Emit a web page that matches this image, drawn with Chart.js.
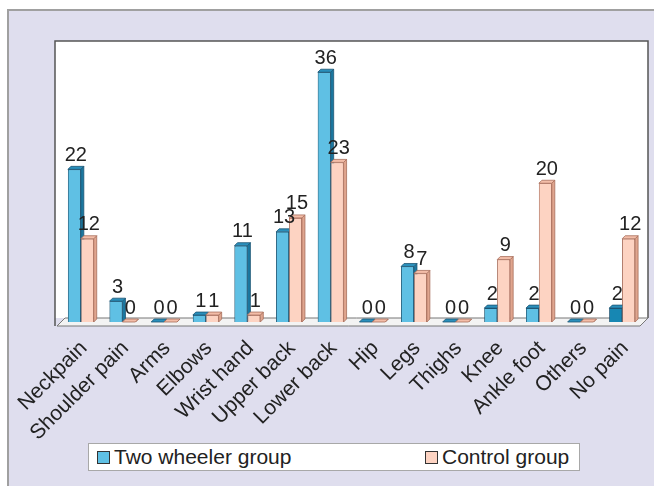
<!DOCTYPE html>
<html>
<head>
<meta charset="utf-8">
<script src="https://cdn.jsdelivr.net/npm/chart.js@4.4.1/dist/chart.umd.min.js"></script>
<style>
  body { margin: 0; background: #fff; }
  #wrap { position: relative; width: 654px; height: 486px; }
  #legend {
    position: absolute; left: 88px; top: 443px; width: 490px; height: 26px;
    background: #fff; border: 1px solid #a8a8a8;
    font: 21px "Liberation Sans", Arial, sans-serif; color: #222;
  }
  .item { position: absolute; top: 1px; line-height: 24px; white-space: nowrap; }
  .sw { display: inline-block; width: 11px; height: 11px; border: 1px solid #333; margin-right: 4px; vertical-align: 0px; }
</style>
</head>
<body>
<div id="wrap">
  <canvas id="chart" width="654" height="486"></canvas>
  <div id="legend"></div>
</div>
<script>
const categories = ['Neckpain', 'Shoulder pain', 'Arms', 'Elbows', 'Wrist hand', 'Upper back', 'Lower back',
                    'Hip', 'Legs', 'Thighs', 'Knee', 'Ankle foot', 'Others', 'No pain'];
const twoWheeler = [22, 3, 0, 1, 11, 13, 36, 0, 8, 0, 2, 2, 0, 2];
const control = [12, 0, 0, 1, 1, 15, 23, 0, 7, 0, 9, 20, 0, 12];
const seriesNames = ['Two wheeler group', 'Control group'];

const FONT = '"Liberation Sans", Arial, sans-serif';
const DEPTH = 3;

// front / side / top colours for each series
const blueFront = categories.map(c => c === 'No pain' ? '#1787b3' : '#5fc0e4');
const shades = [
  { side: '#1b78a0', top: '#2a8fbb', line: '#1d5573' },
  { side: '#e0a58e', top: '#f3bda8', line: '#a86e5c' }
];

const frame = {
  id: 'frame',
  beforeDraw(chart) {
    const { ctx, chartArea: a } = chart;
    ctx.save();
    ctx.fillStyle = '#fff';
    ctx.fillRect(0, 0, chart.width, chart.height);
    ctx.fillStyle = '#dfdeee';
    ctx.fillRect(8, 10, chart.width, chart.height);
    ctx.strokeStyle = '#a0a0a0';
    ctx.lineWidth = 2;
    ctx.strokeRect(8, 10, chart.width + 10, chart.height + 10);
    // plot box
    const l = a.left - 5, r = a.right + 5, t = a.top, b = a.bottom;
    ctx.fillStyle = '#fff';
    ctx.fillRect(l, t, r - l, b - t - 4);
    ctx.strokeStyle = '#555';
    ctx.lineWidth = 1.5;
    ctx.beginPath();
    ctx.moveTo(l, b + 4); ctx.lineTo(l, t); ctx.lineTo(r, t); ctx.lineTo(r, b - 4);
    ctx.stroke();
    // floor
    ctx.fillStyle = '#f3f3f3';
    ctx.strokeStyle = '#777';
    ctx.lineWidth = 1;
    ctx.beginPath();
    ctx.moveTo(l + 2, b + 4); ctx.lineTo(r - 8, b + 4); ctx.lineTo(r, b - 4); ctx.lineTo(l + 10, b - 4);
    ctx.closePath();
    ctx.fill(); ctx.stroke();
    ctx.restore();
  }
};

const bars3d = {
  id: 'bars3d',
  afterDatasetsDraw(chart) {
    const ctx = chart.ctx;
    const metas = [chart.getDatasetMeta(0), chart.getDatasetMeta(1)];
    categories.forEach((c, i) => {
      metas.forEach((m, di) => {
        const el = m.data[i];
        const { x, y, base, width } = el.getProps(['x', 'y', 'base', 'width'], true);
        const lft = x - width / 2, rgt = x + width / 2;
        el.draw(ctx);
        ctx.save();
        ctx.strokeStyle = shades[di].line;
        ctx.lineWidth = 0.8;
        ctx.fillStyle = shades[di].side;
        ctx.beginPath();
        ctx.moveTo(rgt, y); ctx.lineTo(rgt + DEPTH, y - DEPTH);
        ctx.lineTo(rgt + DEPTH, base - DEPTH); ctx.lineTo(rgt, base);
        ctx.closePath(); ctx.fill(); ctx.stroke();
        ctx.fillStyle = shades[di].top;
        ctx.beginPath();
        ctx.moveTo(lft, y); ctx.lineTo(lft + DEPTH, y - DEPTH);
        ctx.lineTo(rgt + DEPTH, y - DEPTH); ctx.lineTo(rgt, y);
        ctx.closePath(); ctx.fill(); ctx.stroke();
        ctx.restore();
      });
    });
    // value labels
    ctx.save();
    ctx.font = '20px ' + FONT;
    ctx.fillStyle = '#222';
    ctx.textAlign = 'center';
    ctx.textBaseline = 'bottom';
    metas.forEach((m, di) => {
      const vals = di === 0 ? twoWheeler : control;
      m.data.forEach((el, i) => {
        ctx.fillText(String(vals[i]), el.x + DEPTH / 2, el.y - DEPTH - 1);
      });
    });
    ctx.restore();
  }
};

new Chart(document.getElementById('chart'), {
  type: 'bar',
  data: {
    labels: categories,
    datasets: [
      { label: seriesNames[0], data: twoWheeler, backgroundColor: blueFront, borderColor: shades[0].line, borderWidth: 0.8 },
      { label: seriesNames[1], data: control, backgroundColor: '#fdd3c2', borderColor: shades[1].line, borderWidth: 0.8 }
    ]
  },
  options: {
    responsive: false,
    animation: false,
    layout: { padding: { left: 60, right: 11, top: 41, bottom: 0 } },
    datasets: { bar: { categoryPercentage: 0.62, barPercentage: 1 } },
    plugins: { legend: { display: false }, tooltip: { enabled: false } },
    scales: {
      y: { display: false, min: 0, max: 40.5 },
      x: {
        grid: { display: false },
        border: { display: false },
        afterFit(scale) { scale.height = 164; },
        ticks: {
          autoSkip: false, minRotation: 45, maxRotation: 45, padding: 6, labelOffset: 3,
          color: '#222', font: { size: 21, family: FONT }
        }
      }
    }
  },
  plugins: [frame, bars3d]
});

const legend = document.getElementById('legend');
const swatches = ['#5fc0e4', '#fdd3c2'];
const lefts = [8, 336];
seriesNames.forEach((n, i) => {
  const d = document.createElement('div');
  d.className = 'item';
  d.style.left = lefts[i] + 'px';
  d.innerHTML = '<span class="sw" style="background:' + swatches[i] + '"></span>' + n;
  legend.appendChild(d);
});
</script>
</body>
</html>
